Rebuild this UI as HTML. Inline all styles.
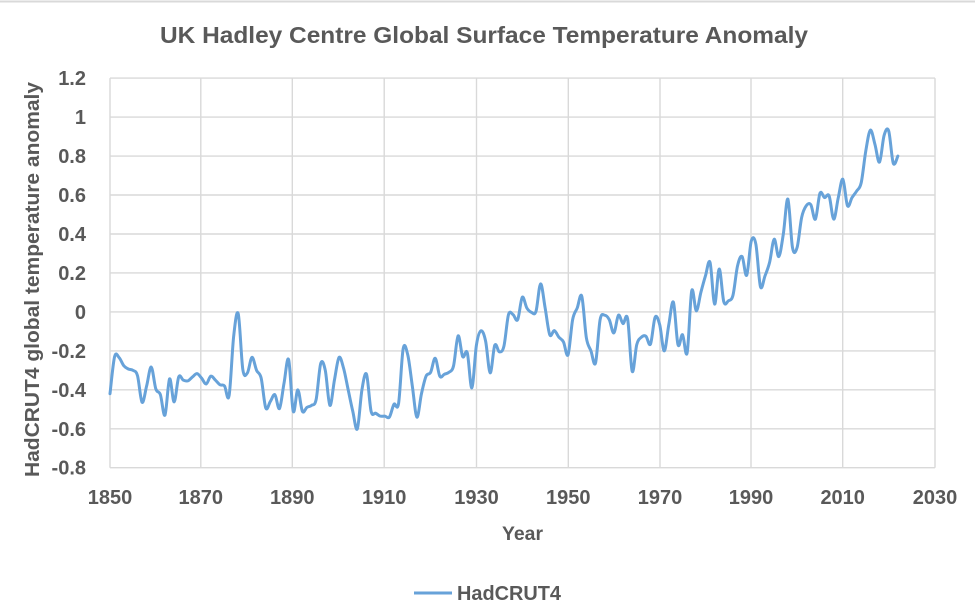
<!DOCTYPE html>
<html>
<head>
<meta charset="utf-8">
<style>
  html, body { margin: 0; padding: 0; background: #ffffff; }
  body { width: 975px; height: 616px; overflow: hidden; }
  svg { display: block; }
  text { font-family: "Liberation Sans", Arial, sans-serif; font-weight: bold; fill: #595959; }
</style>
</head>
<body>
<svg id="chart" width="975" height="616" viewBox="0 0 975 616" xmlns="http://www.w3.org/2000/svg">
  <rect x="0" y="0" width="975" height="616" fill="#ffffff"/>
  <line x1="0" y1="1.5" x2="975" y2="1.5" stroke="#d9d9d9" stroke-width="2"/>

  <text x="160" y="43" font-size="23" textLength="648" lengthAdjust="spacingAndGlyphs">UK Hadley Centre Global Surface Temperature Anomaly</text>

  <!-- horizontal gridlines -->
  <g stroke="#d9d9d9" stroke-width="1.4">
    <line x1="110" y1="78.1" x2="935" y2="78.1"/>
    <line x1="110" y1="117.1" x2="935" y2="117.1"/>
    <line x1="110" y1="156.1" x2="935" y2="156.1"/>
    <line x1="110" y1="195.0" x2="935" y2="195.0"/>
    <line x1="110" y1="234.0" x2="935" y2="234.0"/>
    <line x1="110" y1="272.9" x2="935" y2="272.9"/>
    <line x1="110" y1="311.9" x2="935" y2="311.9"/>
    <line x1="110" y1="350.9" x2="935" y2="350.9"/>
    <line x1="110" y1="389.8" x2="935" y2="389.8"/>
    <line x1="110" y1="428.8" x2="935" y2="428.8"/>
    <line x1="110" y1="467.7" x2="935" y2="467.7"/>
    <!-- vertical gridlines -->
    <line x1="110" y1="78.1" x2="110" y2="467.7"/>
    <line x1="200.8" y1="78.1" x2="200.8" y2="467.7"/>
    <line x1="292.3" y1="78.1" x2="292.3" y2="467.7"/>
    <line x1="384.2" y1="78.1" x2="384.2" y2="467.7"/>
    <line x1="476.5" y1="78.1" x2="476.5" y2="467.7"/>
    <line x1="568.3" y1="78.1" x2="568.3" y2="467.7"/>
    <line x1="660" y1="78.1" x2="660" y2="467.7"/>
    <line x1="751" y1="78.1" x2="751" y2="467.7"/>
    <line x1="842.7" y1="78.1" x2="842.7" y2="467.7"/>
    <line x1="935" y1="78.1" x2="935" y2="467.7"/>
  </g>

  <!-- y tick labels -->
  <g font-size="20" text-anchor="end">
    <text x="86" y="85.1">1.2</text>
    <text x="86" y="124.1">1</text>
    <text x="86" y="163.1">0.8</text>
    <text x="86" y="202.0">0.6</text>
    <text x="86" y="241.0">0.4</text>
    <text x="86" y="279.9">0.2</text>
    <text x="86" y="318.9">0</text>
    <text x="86" y="357.9">-0.2</text>
    <text x="86" y="396.8">-0.4</text>
    <text x="86" y="435.8">-0.6</text>
    <text x="86" y="474.7">-0.8</text>
  </g>

  <!-- x tick labels -->
  <g font-size="20" text-anchor="middle">
    <text x="110" y="504">1850</text>
    <text x="200.8" y="504">1870</text>
    <text x="292.3" y="504">1890</text>
    <text x="384.2" y="504">1910</text>
    <text x="476.5" y="504">1930</text>
    <text x="568.3" y="504">1950</text>
    <text x="660" y="504">1970</text>
    <text x="751" y="504">1990</text>
    <text x="842.7" y="504">2010</text>
    <text x="935" y="504">2030</text>
  </g>

  <text x="502" y="540" font-size="19.5" textLength="41" lengthAdjust="spacingAndGlyphs">Year</text>

  <text transform="translate(39 279.5) rotate(-90)" x="0" y="0" font-size="20" text-anchor="middle" textLength="395" lengthAdjust="spacingAndGlyphs">HadCRUT4 global temperature anomaly</text>

  <!-- legend -->
  <line x1="414" y1="593" x2="452" y2="593" stroke="#67a2d9" stroke-width="3"/>
  <text x="457" y="600" font-size="20" textLength="104" lengthAdjust="spacingAndGlyphs">HadCRUT4</text>

  <!-- data series (fallback polyline in data coordinates) -->
  <g id="dataG" transform="translate(110 311.9) scale(4.5805 -194.8)">
    <polyline id="poly" fill="none" stroke="#67a2d9" stroke-width="3" stroke-linejoin="round" stroke-linecap="round" vector-effect="non-scaling-stroke"
    points="0,-0.42 1,-0.23 2,-0.235 3,-0.276 4,-0.293 5,-0.30 6,-0.327 7,-0.464 8,-0.38 9,-0.283 10,-0.395 11,-0.425 12,-0.53 13,-0.344 14,-0.462 15,-0.334 16,-0.35 17,-0.354 18,-0.334 19,-0.317 20,-0.34 21,-0.37 22,-0.33 23,-0.35 24,-0.374 25,-0.38 26,-0.43 27,-0.125 28,-0.01 29,-0.296 30,-0.313 31,-0.233 32,-0.30 33,-0.34 34,-0.493 35,-0.46 36,-0.425 37,-0.496 38,-0.365 39,-0.245 40,-0.51 41,-0.40 42,-0.51 43,-0.49 44,-0.48 45,-0.45 46,-0.265 47,-0.30 48,-0.48 49,-0.35 50,-0.234 51,-0.29 52,-0.40 53,-0.51 54,-0.60 55,-0.40 56,-0.32 57,-0.51 58,-0.52 59,-0.535 60,-0.535 61,-0.54 62,-0.474 63,-0.47 64,-0.19 65,-0.22 66,-0.38 67,-0.54 68,-0.42 69,-0.33 70,-0.31 71,-0.238 72,-0.33 73,-0.32 74,-0.31 75,-0.277 76,-0.123 77,-0.23 78,-0.21 79,-0.39 80,-0.17 81,-0.097 82,-0.15 83,-0.313 84,-0.171 85,-0.205 86,-0.176 87,-0.014 88,-0.014 89,-0.04 90,0.075 91,0.02 92,-0.002 93,0.003 94,0.144 95,0.02 96,-0.117 97,-0.096 98,-0.13 99,-0.154 100,-0.22 101,-0.04 102,0.02 103,0.08 104,-0.133 105,-0.2 106,-0.262 107,-0.04 108,-0.017 109,-0.04 110,-0.108 111,-0.017 112,-0.06 113,-0.035 114,-0.305 115,-0.168 116,-0.13 117,-0.125 118,-0.165 119,-0.028 120,-0.065 121,-0.2 122,-0.065 123,0.05 124,-0.168 125,-0.117 126,-0.21 127,0.108 128,0.005 129,0.10 130,0.185 131,0.254 132,0.04 133,0.22 134,0.052 135,0.057 136,0.085 137,0.236 138,0.284 139,0.188 140,0.364 141,0.348 142,0.13 143,0.185 144,0.254 145,0.373 146,0.284 147,0.40 148,0.579 149,0.33 150,0.33 151,0.485 152,0.545 153,0.55 154,0.476 155,0.609 156,0.587 157,0.595 158,0.476 159,0.587 160,0.681 161,0.545 162,0.587 163,0.62 164,0.663 165,0.826 166,0.933 167,0.86 168,0.769 169,0.906 170,0.929 171,0.763 172,0.80"/>
  </g>
  <path id="smooth" d="" fill="none" stroke="#67a2d9" stroke-width="3" stroke-linejoin="round" stroke-linecap="round"/>
</svg>
<script>
(function(){
  try {
    var poly = document.getElementById('poly');
    var raw = poly.getAttribute('points').trim().split(/\s+/);
    var pts = raw.map(function(s){
      var p = s.split(',');
      var yr = parseFloat(p[0]), v = parseFloat(p[1]);
      return [110 + yr*4.5805, 311.9 - v*194.8];
    });
    var n = pts.length;
    var d = 'M' + pts[0][0].toFixed(2) + ',' + pts[0][1].toFixed(2);
    for (var i = 0; i < n-1; i++) {
      var p0 = pts[i-1] || pts[i];
      var p1 = pts[i];
      var p2 = pts[i+1];
      var p3 = pts[i+2] || pts[i+1];
      var c1x = p1[0] + (p2[0]-p0[0])/6, c1y = p1[1] + (p2[1]-p0[1])/6;
      var c2x = p2[0] - (p3[0]-p1[0])/6, c2y = p2[1] - (p3[1]-p1[1])/6;
      d += ' C' + c1x.toFixed(2) + ',' + c1y.toFixed(2) + ' ' + c2x.toFixed(2) + ',' + c2y.toFixed(2) + ' ' + p2[0].toFixed(2) + ',' + p2[1].toFixed(2);
    }
    document.getElementById('smooth').setAttribute('d', d);
    document.getElementById('dataG').style.display = 'none';
  } catch(e) {}
})();
</script>
</body>
</html>
